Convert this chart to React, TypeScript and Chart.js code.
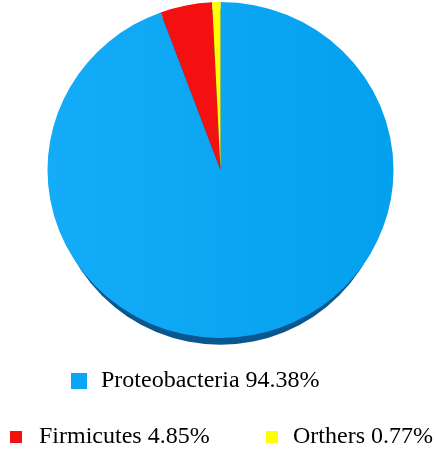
import React, { useEffect, useRef } from "react";
import { Chart, registerables } from "chart.js";

Chart.register(...registerables);

const categories = ["Proteobacteria", "Firmicutes", "Orthers"];
const values = [94.38, 4.85, 0.77];
const colors = ["#0aa6f4", "#f41010", "#ffff00"];

const FONT = "24px 'Liberation Serif', 'Times New Roman', Tinos, FreeSerif, serif";

const piePlugin = {
  id: "pieExtras",
  beforeDatasetsDraw(chart: any) {
    const meta = chart.getDatasetMeta(0);
    const arc = meta.data[0] as any;
    const ctx = chart.ctx;
    ctx.save();
    if (!arc) return;
    const { x, y, outerRadius } = arc;
    // slight vertical squash of the pie, as in the reference
    ctx.translate(0, y - 3);
    ctx.scale(1, 0.971);
    ctx.translate(0, -y);
    ctx.beginPath();
    ctx.ellipse(x, y + 7, outerRadius * 0.97, outerRadius, 0, 0, Math.PI * 2);
    ctx.fillStyle = "#0a5790";
    ctx.fill();
  },
  afterDatasetsDraw(chart: any) {
    const ctx = chart.ctx;
    ctx.restore();
    ctx.save();
    ctx.font = FONT;
    ctx.textBaseline = "middle";
    ctx.textAlign = "left";
    const items = [
      { i: 0, bx: 71, by: 373, bs: 16, tx: 101, ty: 381 },
      { i: 1, bx: 10, by: 431, bs: 12, tx: 39, ty: 437 },
      { i: 2, bx: 266, by: 431, bs: 12, tx: 293, ty: 437 },
    ];
    for (const it of items) {
      ctx.fillStyle = colors[it.i];
      ctx.fillRect(it.bx, it.by, it.bs, it.bs);
      ctx.fillStyle = "#000";
      ctx.fillText(`${categories[it.i]} ${values[it.i].toFixed(2)}%`, it.tx, it.ty);
    }
    ctx.restore();
  },
};

export default function App() {
  const ref = useRef<HTMLCanvasElement | null>(null);
  useEffect(() => {
    document.body.style.margin = "0";
    if (!ref.current) return;
    const ctx2 = ref.current.getContext("2d")!;
    const grad = ctx2.createLinearGradient(47, 0, 394, 0);
    grad.addColorStop(0, "#14acf8");
    grad.addColorStop(1, "#03a0ee");
    const chart = new Chart(ref.current, {
      type: "pie",
      data: {
        labels: categories,
        datasets: [
          {
            data: values,
            backgroundColor: [grad, colors[1], colors[2]],
            borderWidth: 0,
          },
        ],
      },
      options: {
        animation: false,
        responsive: false,
        layout: { padding: { top: 0, bottom: 104, left: 5, right: 0 } },
        plugins: { legend: { display: false }, tooltip: { enabled: false } },
      },
      plugins: [piePlugin],
    });
    let alive = true;
    if ((document as any).fonts) {
      (document as any).fonts.load(FONT).then(() => {
        if (alive) chart.draw();
      });
    }
    return () => {
      alive = false;
      chart.destroy();
    };
  }, []);

  return (
    <div style={{ width: 436, height: 450, background: "#fff" }}>
      <canvas ref={ref} width={436} height={450} style={{ display: "block" }} />
    </div>
  );
}
